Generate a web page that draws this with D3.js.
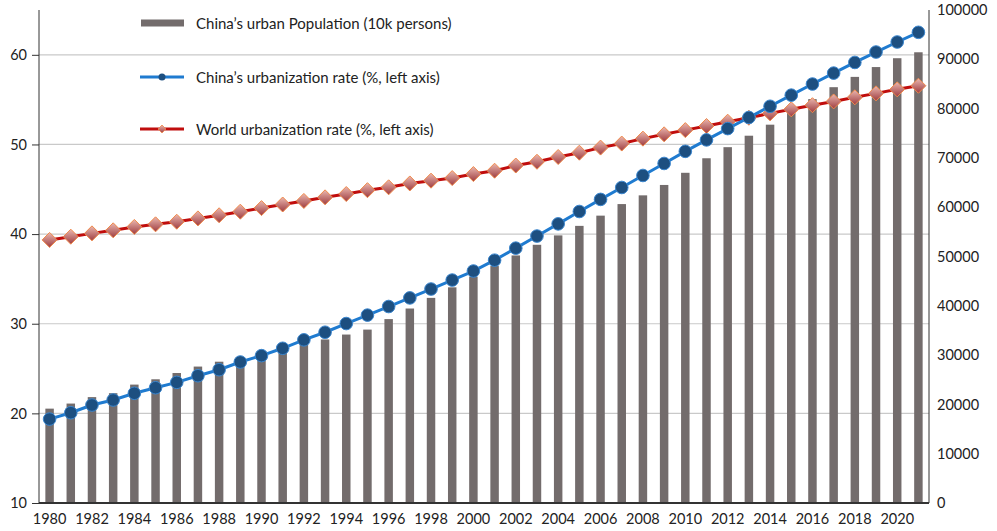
<!DOCTYPE html>
<html>
<head>
<meta charset="utf-8">
<script src="https://cdn.jsdelivr.net/npm/d3@7"></script>
<style>
    html, body { margin: 0; padding: 0; background: #fff; }
    svg text { font-family: Lato, "Open Sans", sans-serif; fill: #222; }
</style>
</head>
<body>
<svg id="chart" width="997" height="531"></svg>
<script>

const years = d3.range(1980, 2022);
const xTickYears = d3.range(1980, 2022, 2);
const leftTicks = [10, 20, 30, 40, 50, 60];
const rightTicks = [0, 10000, 20000, 30000, 40000, 50000, 60000, 70000, 80000, 90000, 100000];

// China's urban population, 10k persons
const urbanPopulation = [
    19140, 20171, 21480, 22274, 24017, 25094, 26366, 27674, 28661, 29540,
    30195, 31203, 32175, 33173, 34169, 35174, 37304, 39449, 41608, 43748,
    45906, 48064, 50212, 52376, 54283, 56212, 58288, 60633, 62403, 64512,
    66978, 69927, 72175, 74502, 76738, 79302, 81924, 84343, 86433, 88426,
    90220, 91425
];

// China's urbanization rate, %
const chinaRate = [
    19.36, 20.07, 20.93, 21.49, 22.24, 22.86, 23.46, 24.2, 24.87, 25.73,
    26.44, 27.26, 28.2, 29.05, 30.02, 30.96, 31.92, 32.88, 33.87, 34.87,
    35.88, 37.09, 38.43, 39.78, 41.14, 42.52, 43.87, 45.2, 46.54, 47.88,
    49.23, 50.51, 51.77, 53.01, 54.26, 55.5, 56.74, 57.96, 59.15, 60.31,
    61.43, 62.51
];

// World urbanization rate, %
const worldRate = [
    39.35, 39.71, 40.08, 40.42, 40.8, 41.09, 41.38, 41.75, 42.1, 42.5,
    42.9, 43.3, 43.7, 44.1, 44.47, 44.9, 45.22, 45.65, 45.96, 46.25,
    46.7, 47.07, 47.65, 48.07, 48.6, 49.08, 49.65, 50.1, 50.65, 51.13,
    51.6, 52.06, 52.54, 52.98, 53.47, 53.92, 54.38, 54.8, 55.26, 55.7,
    56.15, 56.55
];

const legendLabels = [
    "China\u2019s urban Population (10k persons)",
    "China\u2019s urbanization rate (%, left axis)",
    "World urbanization rate (%, left axis)"
];

const svg = d3.select('#chart');
const plotLeft = 39, plotRight = 929, plotTop = 10, plotBottom = 503;

const x = d3.scaleBand().domain(years).range([plotLeft, plotRight]).paddingInner(0.6).paddingOuter(0.3);
const yLeft = d3.scaleLinear().domain([10, 65]).range([plotBottom, plotTop]);
const yRight = d3.scaleLinear().domain([0, 100000]).range([plotBottom, plotTop]);
const cx = d => x(d) + x.bandwidth() / 2;

const defs = svg.append('defs');
const grad = defs.append('linearGradient')
    .attr('id', 'diamond-fill')
    .attr('x1', 0).attr('y1', 0).attr('x2', 0).attr('y2', 1);
grad.append('stop').attr('offset', '0%').attr('stop-color', '#ebb8b0');
grad.append('stop').attr('offset', '100%').attr('stop-color', '#9e3c40');

// gridlines
svg.append('g')
    .selectAll('line')
    .data(leftTicks.slice(1))
    .join('line')
    .attr('x1', plotLeft).attr('x2', plotRight)
    .attr('y1', d => yLeft(d)).attr('y2', d => yLeft(d))
    .attr('stroke', '#c9c9c9')
    .attr('stroke-width', 1.2);

// bars
svg.append('g')
    .selectAll('rect')
    .data(years)
    .join('rect')
    .attr('x', d => x(d))
    .attr('width', x.bandwidth())
    .attr('y', (d, i) => yRight(urbanPopulation[i]))
    .attr('height', (d, i) => plotBottom - yRight(urbanPopulation[i]))
    .attr('fill', '#736c6c');

// axes
const leftAxis = svg.append('g')
    .attr('transform', `translate(${plotLeft},0)`)
    .call(d3.axisLeft(yLeft).tickValues(leftTicks).tickSize(7).tickPadding(5));
leftAxis.select('.domain').attr('d', `M0,${plotTop}V${plotBottom}`);

const rightAxis = svg.append('g')
    .attr('transform', `translate(${plotRight},0)`)
    .call(d3.axisRight(yRight).tickValues(rightTicks).tickFormat(d3.format('d')).tickSize(0).tickPadding(8));
rightAxis.select('.domain').attr('d', `M0,${plotTop}V${plotBottom}`);

const bottomAxis = svg.append('g')
    .attr('transform', `translate(0,${plotBottom})`)
    .call(d3.axisBottom(x).tickValues(xTickYears).tickSize(0).tickPadding(11));
bottomAxis.select('.domain').attr('d', `M${plotLeft},0H${plotRight}`).attr('stroke-width', 2);

svg.selectAll('.tick text').attr('font-size', 14.5).attr('fill', '#222');
svg.selectAll('.domain').attr('stroke', '#333');
leftAxis.selectAll('.tick line').attr('stroke', '#333');

// world line
svg.append('path')
    .datum(years)
    .attr('fill', 'none')
    .attr('stroke', '#c00d0d')
    .attr('stroke-width', 3)
    .attr('d', d3.line().x(d => cx(d)).y((d, i) => yLeft(worldRate[i])));

svg.append('g')
    .selectAll('path')
    .data(years)
    .join('path')
    .attr('transform', (d, i) => `translate(${cx(d)},${yLeft(worldRate[i])})`)
    .attr('d', 'M0,-7.5L7.5,0L0,7.5L-7.5,0Z')
    .attr('fill', 'url(#diamond-fill)')
    .attr('stroke', '#f0894a')
    .attr('stroke-width', 1);

// china line
svg.append('path')
    .datum(years)
    .attr('fill', 'none')
    .attr('stroke', '#1f7bd0')
    .attr('stroke-width', 3)
    .attr('d', d3.line().x(d => cx(d)).y((d, i) => yLeft(chinaRate[i])));

svg.append('g')
    .selectAll('circle')
    .data(years)
    .join('circle')
    .attr('cx', d => cx(d))
    .attr('cy', (d, i) => yLeft(chinaRate[i]))
    .attr('r', 6.3)
    .attr('fill', '#1d4f80')
    .attr('stroke', '#3a86cf')
    .attr('stroke-width', 1);

// legend
const legend = svg.append('g').attr('transform', 'translate(140,0)');
const rows = [23, 77, 129];

legend.append('rect')
    .attr('x', 1).attr('y', rows[0] - 3.5)
    .attr('width', 43).attr('height', 7)
    .attr('fill', '#736c6c');

legend.append('line')
    .attr('x1', 0).attr('x2', 44).attr('y1', rows[1]).attr('y2', rows[1])
    .attr('stroke', '#1f7bd0').attr('stroke-width', 3);
legend.append('circle')
    .attr('cx', 22).attr('cy', rows[1]).attr('r', 3.5)
    .attr('fill', '#1d4f80');

legend.append('line')
    .attr('x1', 0).attr('x2', 44).attr('y1', rows[2]).attr('y2', rows[2])
    .attr('stroke', '#c00d0d').attr('stroke-width', 3);
legend.append('path')
    .attr('transform', `translate(22,${rows[2]})`)
    .attr('d', 'M0,-4L4,0L0,4L-4,0Z')
    .attr('fill', 'url(#diamond-fill)')
    .attr('stroke', '#f0894a')
    .attr('stroke-width', 0.8);

legend.selectAll('text')
    .data(legendLabels)
    .join('text')
    .attr('x', 56)
    .attr('y', (d, i) => rows[i] + 1)
    .attr('dy', '0.35em')
    .attr('font-size', 15)
    .attr('fill', '#222')
    .text(d => d);

</script>
</body>
</html>
